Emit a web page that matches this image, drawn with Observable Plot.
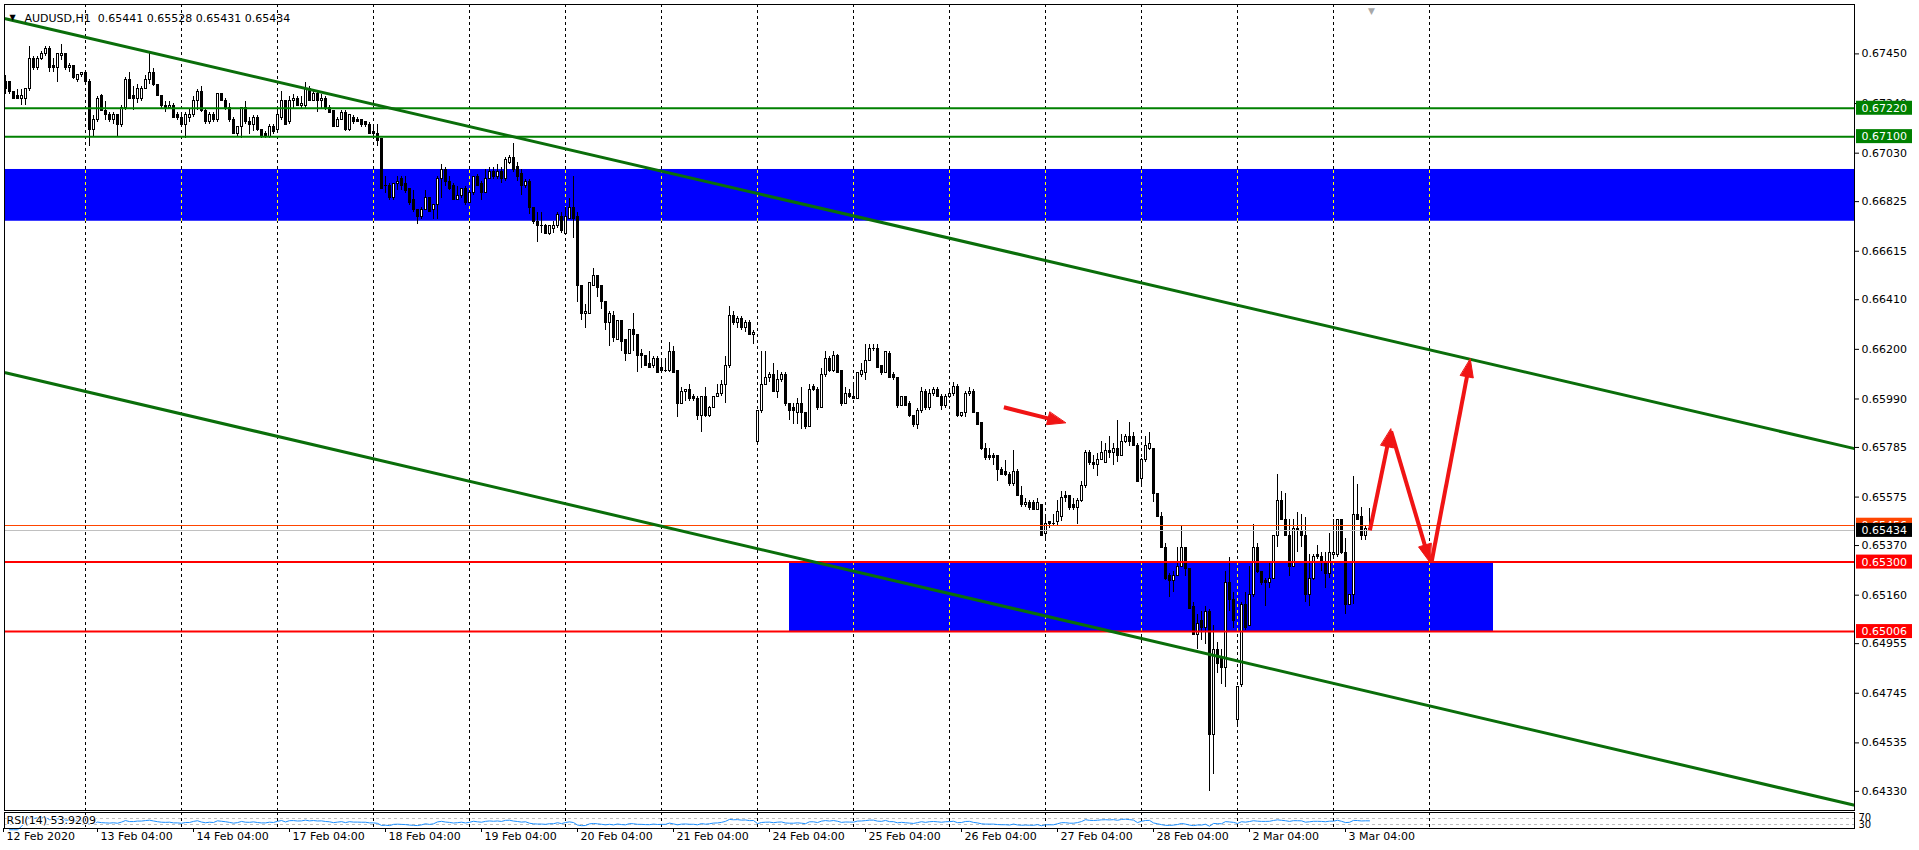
<!DOCTYPE html>
<html><head><meta charset="utf-8">
<script src="https://cdn.jsdelivr.net/npm/d3@7"></script>
<script src="https://cdn.jsdelivr.net/npm/@observablehq/plot@0.6"></script>
<style>
html,body{margin:0;padding:0;background:#fff;}
#chart svg{display:block;}
</style></head><body><div id="chart"></div>
<script>
// ---------------- DATA (AUDUSD H1, bar index 0 = first visible bar) ----------------
const symbolName = "AUDUSD,H1";
const open = [
0.6733,0.6733,0.6729,0.6727,0.6726,0.6726,0.6730,0.6743,0.6739,0.6743,
0.6745,0.6747,0.6740,0.6739,0.6744,0.6745,0.6739,0.6740,0.6734,0.6736,
0.6737,0.6733,0.6713,0.6717,0.6727,0.6721,0.6719,0.6717,0.6719,0.6715,
0.6722,0.6734,0.6727,0.6726,0.6726,0.6730,0.6734,0.6737,0.6732,0.6727,
0.6723,0.6722,0.6723,0.6719,0.6718,0.6715,0.6718,0.6719,0.6725,0.6729,
0.6721,0.6716,0.6719,0.6717,0.6728,0.6725,0.6722,0.6717,0.6711,0.6714,
0.6722,0.6716,0.6715,0.6718,0.6713,0.6711,0.6710,0.6714,0.6713,0.6718,
0.6725,0.6716,0.6725,0.6726,0.6723,0.6723,0.6730,0.6725,0.6728,0.6725,
0.6726,0.6722,0.6721,0.6714,0.6717,0.6720,0.6713,0.6718,0.6717,0.6717,
0.6716,0.6715,0.6712,0.6711,0.6709,0.6689,0.6689,0.6684,0.6690,0.6692,
0.6690,0.6688,0.6683,0.6679,0.6676,0.6679,0.6684,0.6679,0.6681,0.6692,
0.6696,0.6691,0.6689,0.6683,0.6685,0.6688,0.6682,0.6686,0.6693,0.6690,
0.6686,0.6692,0.6695,0.6693,0.6695,0.6692,0.6699,0.6701,0.6697,0.6694,
0.6689,0.6691,0.6680,0.6674,0.6672,0.6672,0.6669,0.6671,0.6672,0.6676,
0.6669,0.6675,0.6680,0.6676,0.6647,0.6635,0.6635,0.6647,0.6651,0.6647,
0.6640,0.6631,0.6634,0.6624,0.6632,0.6624,0.6618,0.6628,0.6626,0.6618,
0.6617,0.6614,0.6613,0.6616,0.6612,0.6611,0.6611,0.6619,0.6611,0.6597,
0.6602,0.6603,0.6600,0.6599,0.6592,0.6600,0.6592,0.6595,0.6600,0.6601,
0.6605,0.6613,0.6634,0.6631,0.6633,0.6629,0.6631,0.6626,0.6581,0.6594,
0.6605,0.6608,0.6609,0.6602,0.6607,0.6609,0.6597,0.6595,0.6593,0.6597,
0.6593,0.6587,0.6604,0.6603,0.6595,0.6609,0.6616,0.6611,0.6617,0.6611,
0.6597,0.6601,0.6600,0.6599,0.6609,0.6610,0.6615,0.6620,0.6620,0.6613,
0.6610,0.6618,0.6609,0.6608,0.6596,0.6600,0.6597,0.6592,0.6588,0.6594,
0.6602,0.6595,0.6601,0.6603,0.6600,0.6596,0.6600,0.6601,0.6604,0.6592,
0.6593,0.6601,0.6602,0.6593,0.6589,0.6578,0.6575,0.6575,0.6575,0.6569,
0.6568,0.6567,0.6563,0.6568,0.6558,0.6554,0.6555,0.6555,0.6552,0.6554,
0.6542,0.6547,0.6546,0.6547,0.6549,0.6558,0.6558,0.6554,0.6553,0.6556,
0.6562,0.6576,0.6572,0.6571,0.6573,0.6572,0.6577,0.6576,0.6578,0.6575,
0.6581,0.6583,0.6583,0.6579,0.6565,0.6573,0.6578,0.6578,0.6559,0.6549,
0.6536,0.6524,0.6522,0.6524,0.6528,0.6536,0.6527,0.6511,0.6499,0.6505,
0.6502,0.6509,0.6457,0.6493,0.6490,0.6485,0.6521,0.6514,0.6463,0.6478,
0.6512,0.6503,0.6516,0.6536,0.6526,0.6522,0.6521,0.6523,0.6541,0.6556,
0.6548,0.6541,0.6528,0.6544,0.6543,0.6541,0.6516,0.6523,0.6533,0.6532,
0.6530,0.6525,0.6533,0.6533,0.6548,0.6534,0.6512,0.6516,0.6550,0.6549,
0.6541,0.65441];
const high = [
0.6736,0.6733,0.6729,0.6730,0.6730,0.6730,0.6748,0.6744,0.6744,0.6746,
0.6748,0.6748,0.6743,0.6745,0.6749,0.6745,0.6741,0.6740,0.6736,0.6737,
0.6737,0.6734,0.6719,0.6727,0.6728,0.6725,0.6720,0.6720,0.6719,0.6723,
0.6735,0.6737,0.6731,0.6732,0.6731,0.6736,0.6745,0.6739,0.6732,0.6727,
0.6725,0.6725,0.6724,0.6720,0.6719,0.6720,0.6722,0.6727,0.6730,0.6731,
0.6722,0.6720,0.6720,0.6728,0.6728,0.6726,0.6724,0.6718,0.6714,0.6722,
0.6725,0.6718,0.6719,0.6719,0.6713,0.6712,0.6715,0.6715,0.6722,0.6729,
0.6725,0.6727,0.6728,0.6727,0.6727,0.6733,0.6731,0.6730,0.6729,0.6728,
0.6727,0.6723,0.6721,0.6718,0.6721,0.6721,0.6719,0.6719,0.6718,0.6717,
0.6716,0.6716,0.6715,0.6715,0.6709,0.6693,0.6690,0.6690,0.6693,0.6693,
0.6693,0.6688,0.6687,0.6679,0.6680,0.6687,0.6684,0.6681,0.6693,0.6698,
0.6697,0.6693,0.6690,0.6689,0.6688,0.6689,0.6687,0.6693,0.6694,0.6691,
0.6696,0.6697,0.6697,0.6698,0.6697,0.6701,0.6702,0.6707,0.6699,0.6696,
0.6692,0.6692,0.6680,0.6678,0.6678,0.6673,0.6672,0.6674,0.6678,0.6678,
0.6680,0.6684,0.6693,0.6678,0.6647,0.6639,0.6648,0.6654,0.6651,0.6647,
0.6640,0.6636,0.6636,0.6632,0.6632,0.6624,0.6628,0.6635,0.6626,0.6620,
0.6617,0.6619,0.6617,0.6617,0.6615,0.6616,0.6623,0.6621,0.6611,0.6604,
0.6603,0.6605,0.6601,0.6600,0.6600,0.6604,0.6596,0.6600,0.6605,0.6607,
0.6617,0.6638,0.6636,0.6634,0.6634,0.6632,0.6632,0.6628,0.6594,0.6619,
0.6619,0.6610,0.6614,0.6611,0.6610,0.6610,0.6597,0.6597,0.6599,0.6604,
0.6593,0.6605,0.6605,0.6604,0.6612,0.6619,0.6617,0.6619,0.6618,0.6611,
0.6604,0.6603,0.6606,0.6610,0.6614,0.6622,0.6622,0.6622,0.6622,0.6613,
0.6619,0.6619,0.6610,0.6608,0.6600,0.6600,0.6598,0.6592,0.6595,0.6604,
0.6603,0.6603,0.6604,0.6604,0.6601,0.6601,0.6603,0.6606,0.6605,0.6593,
0.6602,0.6604,0.6603,0.6593,0.6589,0.6580,0.6578,0.6576,0.6575,0.6570,
0.6573,0.6568,0.6577,0.6569,0.6562,0.6557,0.6556,0.6556,0.6557,0.6554,
0.6550,0.6547,0.6550,0.6556,0.6560,0.6560,0.6558,0.6557,0.6557,0.6564,
0.6577,0.6577,0.6575,0.6576,0.6581,0.6580,0.6583,0.6580,0.6590,0.6584,
0.6584,0.6589,0.6585,0.6580,0.6574,0.6583,0.6585,0.6578,0.6559,0.6551,
0.6538,0.6525,0.6526,0.6536,0.6545,0.6536,0.6527,0.6513,0.6508,0.6509,
0.6511,0.6510,0.6503,0.6496,0.6493,0.6526,0.6532,0.6517,0.6477,0.6513,
0.6517,0.6528,0.6546,0.6538,0.6526,0.6523,0.6530,0.6541,0.6567,0.6560,
0.6559,0.6548,0.6548,0.6551,0.6550,0.6549,0.6533,0.6533,0.6537,0.6534,
0.6534,0.6542,0.6548,0.6548,0.6548,0.6540,0.6516,0.6566,0.6563,0.6553,
0.6545,0.65528];
const low = [
0.6728,0.6728,0.6726,0.6726,0.6723,0.6723,0.6729,0.6738,0.6738,0.6742,
0.6744,0.6737,0.6737,0.6733,0.6742,0.6738,0.6737,0.6734,0.6733,0.6735,
0.6733,0.6706,0.6710,0.6716,0.6721,0.6717,0.6716,0.6715,0.6710,0.6714,
0.6721,0.6726,0.6721,0.6724,0.6725,0.6730,0.6732,0.6731,0.6727,0.6722,
0.6720,0.6722,0.6718,0.6717,0.6715,0.6709,0.6716,0.6718,0.6721,0.6720,
0.6715,0.6715,0.6716,0.6716,0.6725,0.6721,0.6716,0.6711,0.6710,0.6709,
0.6715,0.6711,0.6712,0.6712,0.6709,0.6709,0.6709,0.6711,0.6713,0.6717,
0.6715,0.6715,0.6722,0.6723,0.6722,0.6722,0.6725,0.6725,0.6720,0.6722,
0.6721,0.6720,0.6714,0.6714,0.6717,0.6712,0.6712,0.6715,0.6716,0.6714,
0.6714,0.6711,0.6710,0.6706,0.6688,0.6686,0.6683,0.6683,0.6687,0.6687,
0.6686,0.6681,0.6678,0.6673,0.6675,0.6679,0.6678,0.6675,0.6675,0.6684,
0.6689,0.6687,0.6683,0.6683,0.6684,0.6681,0.6682,0.6685,0.6689,0.6683,
0.6686,0.6692,0.6692,0.6692,0.6690,0.6691,0.6698,0.6695,0.6691,0.6685,
0.6688,0.6677,0.6673,0.6665,0.6669,0.6669,0.6668,0.6669,0.6671,0.6669,
0.6669,0.6675,0.6667,0.6640,0.6632,0.6629,0.6635,0.6647,0.6642,0.6637,
0.6628,0.6621,0.6623,0.6624,0.6619,0.6615,0.6618,0.6619,0.6610,0.6612,
0.6613,0.6612,0.6612,0.6610,0.6610,0.6610,0.6610,0.6610,0.6591,0.6597,
0.6598,0.6598,0.6598,0.6590,0.6585,0.6591,0.6591,0.6595,0.6600,0.6600,
0.6597,0.6612,0.6630,0.6629,0.6628,0.6627,0.6626,0.6622,0.6580,0.6593,
0.6605,0.6606,0.6602,0.6599,0.6606,0.6596,0.6590,0.6588,0.6588,0.6586,
0.6586,0.6587,0.6602,0.6594,0.6595,0.6608,0.6610,0.6610,0.6610,0.6596,
0.6597,0.6599,0.6599,0.6599,0.6608,0.6607,0.6615,0.6619,0.6612,0.6609,
0.6610,0.6608,0.6607,0.6595,0.6596,0.6596,0.6591,0.6587,0.6586,0.6593,
0.6594,0.6594,0.6600,0.6600,0.6594,0.6595,0.6599,0.6600,0.6591,0.6591,
0.6591,0.6600,0.6593,0.6588,0.6577,0.6573,0.6573,0.6571,0.6564,0.6567,
0.6566,0.6562,0.6562,0.6558,0.6553,0.6553,0.6552,0.6552,0.6552,0.6541,
0.6539,0.6544,0.6545,0.6545,0.6547,0.6555,0.6552,0.6552,0.6546,0.6555,
0.6561,0.6571,0.6569,0.6566,0.6573,0.6572,0.6574,0.6571,0.6572,0.6575,
0.6580,0.6579,0.6579,0.6564,0.6562,0.6572,0.6577,0.6555,0.6549,0.6536,
0.6522,0.6515,0.6517,0.6524,0.6528,0.6524,0.6510,0.6499,0.6493,0.6497,
0.6495,0.6433,0.6440,0.6483,0.6478,0.6477,0.6509,0.6502,0.6460,0.6477,
0.6501,0.6503,0.6515,0.6525,0.6520,0.6511,0.6519,0.6523,0.6536,0.6548,
0.6541,0.6524,0.6528,0.6534,0.6536,0.6513,0.6511,0.6522,0.6531,0.6526,
0.6519,0.6523,0.6531,0.6532,0.6533,0.6508,0.6512,0.6512,0.6548,0.6539,
0.6539,0.65431];
const close = [
0.6730,0.6729,0.6726,0.6726,0.6727,0.6730,0.6743,0.6739,0.6743,0.6745,
0.6747,0.6739,0.6739,0.6745,0.6745,0.6739,0.6740,0.6735,0.6736,0.6737,
0.6733,0.6713,0.6717,0.6726,0.6721,0.6719,0.6717,0.6719,0.6715,0.6722,
0.6734,0.6726,0.6726,0.6730,0.6730,0.6734,0.6737,0.6732,0.6727,0.6723,
0.6722,0.6723,0.6718,0.6718,0.6715,0.6719,0.6719,0.6725,0.6729,0.6721,
0.6716,0.6719,0.6717,0.6728,0.6725,0.6722,0.6717,0.6711,0.6714,0.6722,
0.6716,0.6715,0.6718,0.6713,0.6710,0.6710,0.6714,0.6712,0.6719,0.6725,
0.6715,0.6725,0.6726,0.6723,0.6724,0.6730,0.6725,0.6728,0.6725,0.6726,
0.6722,0.6720,0.6714,0.6717,0.6720,0.6713,0.6719,0.6716,0.6716,0.6715,
0.6715,0.6711,0.6711,0.6708,0.6688,0.6689,0.6684,0.6690,0.6691,0.6689,
0.6687,0.6682,0.6679,0.6676,0.6679,0.6684,0.6678,0.6681,0.6692,0.6696,
0.6691,0.6688,0.6683,0.6685,0.6688,0.6682,0.6686,0.6693,0.6689,0.6686,
0.6692,0.6695,0.6693,0.6695,0.6692,0.6700,0.6701,0.6696,0.6693,0.6689,
0.6691,0.6680,0.6674,0.6672,0.6672,0.6669,0.6672,0.6672,0.6677,0.6670,
0.6676,0.6680,0.6675,0.6647,0.6635,0.6636,0.6648,0.6651,0.6646,0.6640,
0.6631,0.6635,0.6625,0.6632,0.6623,0.6618,0.6628,0.6626,0.6617,0.6617,
0.6613,0.6612,0.6616,0.6610,0.6611,0.6611,0.6619,0.6610,0.6597,0.6602,
0.6603,0.6599,0.6599,0.6592,0.6600,0.6592,0.6595,0.6600,0.6601,0.6605,
0.6613,0.6634,0.6631,0.6633,0.6629,0.6631,0.6626,0.6627,0.6594,0.6605,
0.6608,0.6609,0.6602,0.6607,0.6609,0.6597,0.6594,0.6594,0.6597,0.6593,
0.6587,0.6603,0.6603,0.6595,0.6609,0.6616,0.6611,0.6617,0.6610,0.6597,
0.6601,0.6600,0.6599,0.6610,0.6611,0.6615,0.6620,0.6620,0.6612,0.6610,
0.6619,0.6608,0.6608,0.6596,0.6600,0.6596,0.6592,0.6588,0.6594,0.6602,
0.6595,0.6601,0.6603,0.6600,0.6596,0.6600,0.6601,0.6604,0.6592,0.6593,
0.6601,0.6602,0.6593,0.6588,0.6578,0.6574,0.6574,0.6574,0.6569,0.6567,
0.6567,0.6563,0.6568,0.6558,0.6554,0.6555,0.6553,0.6552,0.6555,0.6541,
0.6546,0.6546,0.6546,0.6551,0.6557,0.6557,0.6553,0.6553,0.6556,0.6562,
0.6576,0.6572,0.6571,0.6573,0.6576,0.6577,0.6576,0.6578,0.6575,0.6581,
0.6583,0.6581,0.6579,0.6564,0.6573,0.6579,0.6580,0.6559,0.6549,0.6536,
0.6523,0.6522,0.6524,0.6528,0.6536,0.6527,0.6510,0.6499,0.6504,0.6502,
0.6509,0.6457,0.6493,0.6487,0.6485,0.6521,0.6514,0.6505,0.6477,0.6512,
0.6502,0.6516,0.6536,0.6526,0.6521,0.6521,0.6523,0.6541,0.6556,0.6548,
0.6541,0.6528,0.6544,0.6543,0.6541,0.6516,0.6523,0.6532,0.6532,0.6530,
0.6525,0.6534,0.6534,0.6548,0.6534,0.6512,0.6516,0.6550,0.6548,0.6541,
0.6544,0.65434];

// time axis (bar indices)
const gridBars = [20,44,68,92,116,140,164,188,212,236,260,284,308,332,356];
const timeLabelBars = [-0.5,23,47,71,95,119,143,167,191,215,239,263,287,311,335];
const timeLabels = ["12 Feb 2020","13 Feb 04:00","14 Feb 04:00","17 Feb 04:00","18 Feb 04:00",
  "19 Feb 04:00","20 Feb 04:00","21 Feb 04:00","24 Feb 04:00","25 Feb 04:00","26 Feb 04:00",
  "27 Feb 04:00","28 Feb 04:00","2 Mar 04:00","3 Mar 04:00"];
// price axis
const priceTicks = [0.67450,0.67240,0.67030,0.66825,0.66615,0.66410,0.66200,0.65990,
  0.65785,0.65575,0.65370,0.65160,0.64955,0.64745,0.64535,0.64330];
// drawn objects
const greenLevels = [0.67220, 0.67100];
const redLevels = [0.65300, 0.65006];
const askLevel = 0.65456;
const bidLevel = 0.65434;
const zoneFromBar = [-0.25, 196];
const zoneToBar = [462.25, 372];
const zoneHigh = [0.66961, 0.65300];
const zoneLow = [0.66742, 0.65006];
const channelName = ["upper","upper","lower","lower"];
const channelBar = [0, 462, 0, 462];
const channelPrice = [0.67599, 0.65781, 0.66101, 0.64272];
const arrowFromBar = [249.6, 341.1, 346.4, 356.5];
const arrowFromPrice = [0.65955, 0.65434, 0.65853, 0.65299];
const arrowToBar = [265.0, 346.35, 356.1, 366.2];
const arrowToPrice = [0.65889, 0.65863, 0.65299, 0.66159];
const rsiLevels = [70, 30];
const rsiPeriod = 14;
const rsiLabel = "RSI(14) 53.9209";

// ---------------- LAYOUT ----------------
const W = 1919, H1 = 811, H2 = 39;
const ML = 4, MR = 65, MT = 4, MB = 1;
const xDomain = [-0.25, 462.25];
const yDomain = [0.64249, 0.67659];
const FONT = "'DejaVu Sans', Tahoma, sans-serif";

if (![high, low, close].every(a => a.length === open.length)) console.error("length mismatch", open.length, high.length, low.length, close.length);

const bars = open.map((o, i) => ({i, o, h: high[i], l: low[i], c: close[i]}));
const bulls = bars.filter(d => d.c > d.o);
const zones = zoneFromBar.map((f, k) => ({x1: f, x2: zoneToBar[k], hi: zoneHigh[k], lo: zoneLow[k]}));
const yellowGrid = zones.flatMap(z => gridBars.filter(b => b > z.x1 && b < z.x2).map(b => ({bar: b, hi: z.hi, lo: z.lo})));
const channels = channelName.map((n, k) => ({n, bar: channelBar[k], p: channelPrice[k]}));
const last = bars[bars.length - 1];
const header = `${symbolName}  ${last.o.toFixed(5)} ${last.h.toFixed(5)} ${last.l.toFixed(5)} ${last.c.toFixed(5)}`;

// arrows: shafts + filled heads computed through the scales
const xs = Plot.scale({x: {domain: xDomain, range: [ML, W - MR]}});
const ys = Plot.scale({y: {domain: yDomain, range: [H1 - MB, MT]}});
const HEAD_LEN = 18, HEAD_W = 13, SHAFT_W = 4;
const shafts = [], heads = [];
arrowFromBar.forEach((fb, k) => {
  const x1 = xs.apply(fb), y1 = ys.apply(arrowFromPrice[k]);
  const x2 = xs.apply(arrowToBar[k]), y2 = ys.apply(arrowToPrice[k]);
  const len = Math.hypot(x2 - x1, y2 - y1), ux = (x2 - x1) / len, uy = (y2 - y1) / len;
  const bx = x2 - HEAD_LEN * ux, by = y2 - HEAD_LEN * uy;
  const nx = -uy, ny = ux;
  shafts.push({x1: fb, y1: arrowFromPrice[k], x2: xs.invert(bx + ux * 2), y2: ys.invert(by + uy * 2)});
  [[x2, y2], [bx + nx * HEAD_W / 2, by + ny * HEAD_W / 2], [bx - nx * HEAD_W / 2, by - ny * HEAD_W / 2]]
    .forEach(([px, py]) => heads.push({id: k, x: xs.invert(px), y: ys.invert(py)}));
});

// RSI(14), Wilder smoothing, from the closes
const rsi = [];
{
  let sg = 0, sl = 0, ag = 0, al = 0;
  for (let i = 1; i < close.length; i++) {
    const d = close[i] - close[i - 1], g = Math.max(d, 0), l = Math.max(-d, 0);
    if (i <= rsiPeriod) { sg += g; sl += l; ag = sg / i; al = sl / i; }
    else { ag = (ag * (rsiPeriod - 1) + g) / rsiPeriod; al = (al * (rsiPeriod - 1) + l) / rsiPeriod; }
    rsi.push({i, v: al === 0 ? 100 : 100 - 100 / (1 + ag / al)});
  }
}

const priceLabels = [
  {p: greenLevels[0], bg: "#008000"}, {p: greenLevels[1], bg: "#008000"},
  {p: askLevel, bg: "#FF4500"}, {p: bidLevel, bg: "#000000"},
  {p: redLevels[0], bg: "#FF0000"}, {p: redLevels[1], bg: "#FF0000"}
];
// each label: box then its text, in order, so later labels cover earlier ones
const labelMarks = priceLabels.flatMap(d => [
  Plot.rect([d], {x1: () => xDomain[1], x2: () => xDomain[1], y1: "p", y2: "p", fill: "bg", insetLeft: 2, insetRight: -58, insetTop: -7, insetBottom: -7}),
  Plot.text([d], {y: "p", frameAnchor: "right", dx: 7, textAnchor: "start", text: e => e.p.toFixed(5), fill: "white", fontSize: 11})
]);

const main = Plot.plot({
  width: W, height: H1, marginLeft: ML, marginRight: MR, marginTop: MT, marginBottom: MB,
  style: {fontFamily: FONT, fontSize: "11px", background: "white", color: "black"},
  x: {domain: xDomain, axis: null},
  y: {domain: yDomain, axis: "right", ticks: priceTicks, tickFormat: d => d.toFixed(5), tickSize: 4, tickPadding: 3, label: null},
  marks: [
    Plot.ruleX(gridBars, {x: d => d, stroke: "black", strokeDasharray: "3,3", shapeRendering: "crispEdges"}),
    Plot.rect(zones, {x1: "x1", x2: "x2", y1: "lo", y2: "hi", fill: "#0000FF"}),
    Plot.ruleX(yellowGrid, {x: "bar", y1: "lo", y2: "hi", stroke: "#FFFF00", strokeDasharray: "3,3", shapeRendering: "crispEdges"}),
    Plot.ruleX(bars, {x: "i", y1: "l", y2: "h", stroke: "black", strokeWidth: 1, shapeRendering: "crispEdges"}),
    Plot.rect(bars, {x1: d => d.i - 0.375, x2: d => d.i + 0.375, y1: "o", y2: "c", fill: "black", insetTop: -0.5, insetBottom: -0.5, shapeRendering: "crispEdges"}),
    Plot.rect(bulls, {x1: d => d.i - 0.375, x2: d => d.i + 0.375, y1: "o", y2: "c", fill: "white", insetLeft: 1, insetRight: 1, insetTop: 0.5, insetBottom: 0.5, shapeRendering: "crispEdges"}),
    Plot.ruleY(greenLevels, {y: d => d, stroke: "#008000", strokeWidth: 2}),
    Plot.ruleY(redLevels, {y: d => d, stroke: "#FF0000", strokeWidth: 2}),
    Plot.ruleY([askLevel], {y: d => d, stroke: "#FF4500", strokeWidth: 1, shapeRendering: "crispEdges"}),
    Plot.ruleY([bidLevel], {y: d => d, stroke: "#C0C0C0", strokeWidth: 1, shapeRendering: "crispEdges"}),
    Plot.line(channels, {x: "bar", y: "p", z: "n", stroke: "#0A6E0A", strokeWidth: 3}),
    Plot.link(shafts, {x1: "x1", y1: "y1", x2: "x2", y2: "y2", stroke: "#F01414", strokeWidth: SHAFT_W}),
    Plot.line(heads, {x: "x", y: "y", z: "id", fill: "#F01414", stroke: "#F01414", strokeWidth: 1, curve: "linear-closed"}),
    Plot.frame({stroke: "black"}),
    Plot.text(["▼"], {frameAnchor: "top-left", dx: 8, dy: 10, fontSize: 8, textAnchor: "middle"}),
    Plot.text([header], {frameAnchor: "top-left", dx: 20, dy: 10, textAnchor: "start", fontSize: 11}),
    Plot.text([last.i], {x: d => d + 0.5, frameAnchor: "top", dy: 3, text: () => "▼", fill: "#A8A8A8", fontSize: 9}),
    ...labelMarks
  ]
});

const sub = Plot.plot({
  width: W, height: H2, marginLeft: ML, marginRight: MR, marginTop: 1, marginBottom: 22,
  style: {fontFamily: FONT, fontSize: "11px", background: "white", color: "black"},
  x: {domain: xDomain, axis: "bottom", ticks: timeLabelBars, tickFormat: () => "", tickSize: 4, label: null},
  y: {domain: [7.6, 104.5], axis: null},
  marks: [
    Plot.ruleX(gridBars, {x: d => d, stroke: "black", strokeDasharray: "3,3", shapeRendering: "crispEdges"}),
    Plot.ruleY(rsiLevels, {y: d => d, stroke: "#C0C0C0", strokeDasharray: "3,3", shapeRendering: "crispEdges"}),
    Plot.line(rsi, {x: "i", y: "v", stroke: "#1E90FF", strokeWidth: 1}),
    Plot.text([rsiLabel], {frameAnchor: "left", dx: 2, textAnchor: "start", fontSize: 11, stroke: "white", strokeWidth: 2, fill: "black"}),
    Plot.text(rsiLevels, {y: d => d, frameAnchor: "right", dx: 4, textAnchor: "start", text: d => String(d), fontSize: 10}),
    Plot.frame({stroke: "black"}),
    Plot.text(timeLabels, {x: (d, k) => timeLabelBars[k], frameAnchor: "bottom", dy: 11, dx: 3, textAnchor: "start", fontSize: 11})
  ]
});

document.getElementById("chart").append(main, sub);
</script>
</body></html>
